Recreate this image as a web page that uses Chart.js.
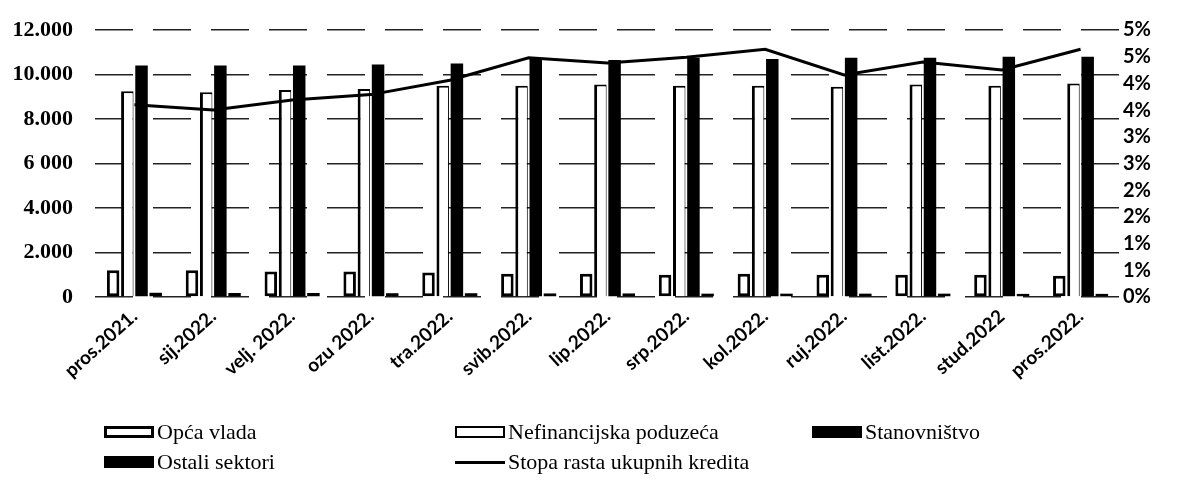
<!DOCTYPE html>
<html>
<head>
<meta charset="utf-8">
<script src="https://cdn.jsdelivr.net/npm/chart.js@4"></script>
<style>
  body { margin: 0; background: #fff; }
  #wrap { position: relative; width: 1179px; height: 502px; }
  #legend { position: absolute; left: 0; top: 0; width: 1179px; height: 502px; pointer-events: none;
            font-family: "Liberation Serif", serif; font-size: 22px; color: #000; }
  .item { position: absolute; display: flex; align-items: center; white-space: nowrap; transform: translateY(-50%); }
  .sw { width: 50px; height: 12px; margin-right: 3px; box-sizing: border-box; }
</style>
</head>
<body>
<div id="wrap">
  <canvas id="chart" width="1179" height="502"></canvas>
  <div id="legend"></div>
</div>
<script>
// ── data ──
const months = ['pros.2021.', 'sij.2022.', 'velj. 2022.', 'ozu 2022.', 'tra.2022.', 'svib.2022.', 'lip.2022.',
                'srp.2022.', 'kol.2022.', 'ruj.2022.', 'list.2022.', 'stud.2022', 'pros.2022.'];
const opcaVlada     = [1200, 1200, 1150, 1150, 1100, 1050, 1050, 1000, 1050, 1000, 1000, 1000, 950];
const nefinancijska = [9250, 9200, 9300, 9350, 9500, 9500, 9550, 9500, 9500, 9450, 9550, 9500, 9600];
const stanovnistvo  = [10400, 10400, 10400, 10450, 10500, 10700, 10650, 10750, 10700, 10750, 10750, 10800, 10800];
const ostali        = [190, 180, 180, 170, 170, 160, 160, 150, 150, 150, 150, 140, 140];
const stopaRasta    = [3.60, 3.50, 3.69, 3.79, 4.06, 4.48, 4.38, 4.49, 4.64, 4.16, 4.40, 4.25, 4.64];

const leftTickLabels  = ['0', '2.000', '4.000', '6 000', '8.000', '10.000', '12.000'];
const rightTickLabels = ['0%', '1%', '1%', '2%', '2%', '3%', '3%', '4%', '4%', '5%', '5%'];

const legendNames = ['Opća vlada', 'Nefinancijska poduzeća', 'Stanovništvo', 'Ostali sektori', 'Stopa rasta ukupnih kredita'];

const barCommon = { type: 'bar', yAxisID: 'y', order: 1, categoryPercentage: 0.72, barPercentage: 0.88 };

const chart = new Chart(document.getElementById('chart'), {
    data: {
        labels: months,
        datasets: [
            { ...barCommon, label: legendNames[0], data: opcaVlada, backgroundColor: '#fff',
              borderColor: '#000', borderWidth: 3, borderSkipped: false },
            { ...barCommon, label: legendNames[1], data: nefinancijska, backgroundColor: '#fff',
              borderColor: '#000', borderWidth: { left: 3, top: 2, right: 1, bottom: 0 } },
            { ...barCommon, label: legendNames[2], data: stanovnistvo, backgroundColor: '#000', borderWidth: 0 },
            { ...barCommon, label: legendNames[3], data: ostali, backgroundColor: '#000', borderWidth: 0 },
            { type: 'line', label: legendNames[4], data: stopaRasta, yAxisID: 'y1', order: 0,
              borderColor: '#000', borderWidth: 3, pointRadius: 0, tension: 0, fill: false }
        ]
    },
    options: {
        responsive: false,
        animation: false,
        layout: { padding: { top: 30, right: 0, left: 0, bottom: 0 } },
        plugins: { legend: { display: false }, tooltip: { enabled: false } },
        scales: {
            x: {
                grid: { display: false, drawTicks: false },
                border: { display: false },
                ticks: {
                    color: '#000', minRotation: 42, maxRotation: 42, padding: 8,
                    font: { family: 'Lato', weight: 'bold', size: 19 }
                },
                afterFit: s => { s.height = 205; s.paddingLeft = 0; s.paddingRight = 0; }
            },
            y: {
                position: 'left', min: 0, max: 12000,
                ticks: {
                    stepSize: 2000, color: '#000', padding: 22,
                    font: { family: 'Liberation Serif', weight: 'bold', size: 22 },
                    callback: (v, i) => leftTickLabels[i]
                },
                grid: { color: '#222', lineWidth: 1.5, drawTicks: false },
                border: { display: false, dash: [38, 20] },
                afterFit: s => { s.width = 95; s.paddingTop = 0; s.paddingBottom = 0; }
            },
            y1: {
                position: 'right', min: 0, max: 5,
                ticks: {
                    stepSize: 0.5, color: '#000', padding: 3, autoSkip: false,
                    font: { family: 'Lato', weight: 'bold', size: 20 },
                    callback: (v, i) => rightTickLabels[i]
                },
                grid: { display: false, drawTicks: false },
                border: { display: false },
                afterFit: s => { s.width = 59; s.paddingTop = 0; s.paddingBottom = 0; }
            }
        }
    }
});

// ── HTML legend (3-column grid as in the source) ──
const legendPos = [[104, 432], [455, 432], [812, 432], [104, 462], [455, 462]];
const legendEl = document.getElementById('legend');
chart.data.datasets.forEach((ds, i) => {
    const item = document.createElement('div');
    item.className = 'item';
    item.style.left = legendPos[i][0] + 'px';
    item.style.top = legendPos[i][1] + 'px';
    const sw = document.createElement('span');
    sw.className = 'sw';
    if (ds.type === 'line') {
        sw.style.height = '3px';
        sw.style.background = '#000';
    } else if (ds.backgroundColor === '#000') {
        sw.style.background = '#000';
    } else {
        sw.style.background = '#fff';
        sw.style.border = (i === 0 ? 3 : 2) + 'px solid #000';
    }
    item.appendChild(sw);
    item.appendChild(document.createTextNode(ds.label));
    legendEl.appendChild(item);
});
</script>
</body>
</html>
